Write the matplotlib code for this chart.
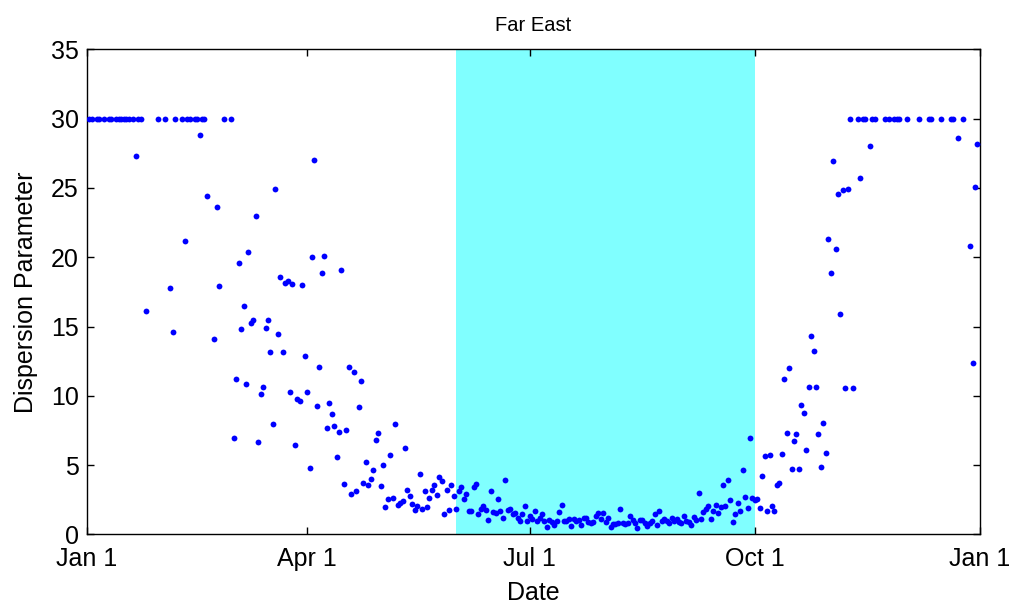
import matplotlib
matplotlib.use("Agg")
import matplotlib.pyplot as plt

plt.rcParams['font.family'] = ['Liberation Sans', 'DejaVu Sans']

# day of year (0 = Jan 1) and daily dispersion parameter, capped at 30
day = [
    1, 2, 4, 5, 7, 9, 10, 12, 13, 14, 15, 16, 17, 19, 20, 21, 22, 24, 29, 32,
    34, 35, 36, 39, 40, 41, 42, 44, 45, 46, 47, 48, 49, 52, 53, 54, 56, 59,
    60, 61, 62, 63, 64, 65, 66, 67, 68, 69, 70, 71, 72, 73, 74, 75, 76, 77,
    78, 79, 80, 81, 82, 83, 84, 85, 86, 87, 88, 89,
    90, 91, 92, 93, 94, 95, 96, 97, 98, 99, 100, 101, 102, 103, 104, 105, 106,
    107, 108, 109, 110, 111, 112, 113, 114, 115, 116, 117, 118, 119,
    120, 121, 122, 123, 124, 125, 126, 127, 128, 129, 130, 131, 132, 133, 134,
    135, 136, 137, 138, 139, 140, 141, 142, 143, 144, 145, 146, 147, 148, 149, 150,
    151, 152, 153, 154, 155, 156, 157, 158, 159, 160, 161, 162, 163, 164, 165,
    166, 167, 168, 169, 170, 171, 172, 173, 174, 175, 176, 177, 178, 179, 180,
    181, 182, 183, 184, 185, 186, 187, 188, 189, 190, 191, 192, 193, 194, 195,
    196, 197, 198, 199, 200, 201, 202, 203, 204, 205, 206, 207, 208, 209, 210, 211,
    212, 213, 214, 215, 216, 217, 218, 219, 220, 221, 222, 223, 224, 225, 226,
    227, 228, 229, 230, 231, 232, 233, 234, 235, 236, 237, 238, 239, 240, 241, 242,
    243, 244, 245, 246, 247, 248, 249, 250, 251, 252, 253, 254, 255, 256, 257,
    258, 259, 260, 261, 262, 263, 264, 265, 266, 267, 268, 269, 270, 271, 272,
    273, 274, 275, 276, 277, 278, 279, 280, 281, 282, 283, 284, 285, 286, 287,
    288, 289, 290, 291, 292, 293, 294, 295, 296, 297, 298, 299, 300, 301, 302, 303,
    304, 305, 306, 307, 308, 309, 310, 311, 312, 313, 315, 316, 317, 318, 320,
    321, 322, 326, 328, 330, 331, 332,
    335, 340, 344, 345, 349, 353, 354, 356, 358, 361, 362, 363, 364,
]
dispersion = [
    30, 30, 30, 30, 30, 30, 30, 30, 30, 30, 30, 30, 30, 30, 27.3, 30, 30, 16.1, 30, 30,
    17.8, 14.6, 30, 30, 21.2, 30, 30, 30, 30, 28.8, 30, 30, 24.4, 14.1, 23.6, 17.9, 30, 30,
    6.96, 11.2, 19.6, 14.8, 16.5, 10.85, 20.4, 15.25, 15.45, 23.0, 6.64, 10.15, 10.65, 14.9, 15.45, 13.2, 7.97, 24.9,
    14.45, 18.6, 13.2, 18.15, 18.3, 10.3, 18.1, 6.45, 9.8, 9.65, 18.0, 12.9,
    10.25, 4.8, 20.05, 27.0, 9.26, 12.1, 18.9, 20.1, 7.65, 9.52, 8.7, 7.82, 5.61, 7.41, 19.07, 3.66, 7.53,
    12.1, 2.92, 11.75, 3.11, 9.17, 11.1, 3.73, 5.25, 3.59, 4.02, 4.67, 6.81, 7.34,
    3.52, 5.01, 2.0, 2.56, 5.73, 2.63, 7.99, 2.15, 2.3, 2.42, 6.21, 3.23, 2.75, 2.22, 1.77,
    2.03, 4.36, 1.81, 3.16, 1.95, 2.65, 3.18, 3.59, 2.87, 4.14, 3.83, 1.5, 3.21, 1.77, 3.57, 2.78,
    1.81, 3.16, 3.45, 2.58, 2.94, 1.69, 1.69, 3.45, 3.62, 1.48, 1.86, 2.03, 1.74, 1.07, 3.11,
    1.62, 1.55, 2.56, 1.69, 1.21, 3.91, 1.77, 1.86, 1.48, 1.55, 1.17, 0.97, 1.46, 2.03, 0.97,
    1.36, 1.14, 1.69, 0.97, 1.21, 1.48, 0.97, 0.56, 1.05, 0.9, 0.66, 1.0, 1.6, 2.1, 1.0,
    1.0, 1.14, 0.59, 1.1, 1.0, 1.02, 0.66, 1.19, 1.21, 0.9, 0.81, 0.88, 1.31, 1.53, 1.1, 1.55,
    0.9, 1.19, 0.56, 0.76, 0.78, 0.85, 1.86, 0.81, 0.78, 0.85, 1.33, 1.05, 0.85, 0.49, 1.05,
    1.05, 0.81, 0.63, 0.81, 1.0, 1.48, 0.68, 1.67, 1.0, 1.14, 1.0, 0.81, 1.21, 0.97, 1.1, 0.9,
    0.85, 1.31, 0.97, 0.9, 0.68, 1.24, 1.05, 2.97, 1.12, 1.62, 1.82, 2.03, 1.12, 1.72, 2.15,
    1.53, 1.98, 3.55, 2.08, 3.95, 2.47, 0.9, 1.48, 2.25, 1.67, 4.65, 2.73, 1.91, 6.94, 2.65,
    2.49, 2.54, 1.89, 4.2, 5.68, 1.67, 5.75, 2.03, 1.67, 3.55, 3.74, 5.83, 11.23, 7.32, 12.03,
    4.72, 6.76, 7.25, 4.74, 9.34, 8.74, 6.09, 10.66, 14.33, 13.25, 10.61, 7.25, 4.84, 8.04, 5.85, 21.35,
    18.85, 26.95, 20.6, 24.6, 15.9, 24.84, 10.54, 24.9, 30, 10.56, 30, 25.7, 30, 30, 28.0,
    30, 30, 30, 30, 30, 30, 30,
    30, 30, 30, 30, 30, 30, 30, 28.6, 30, 20.8, 12.4, 25.05, 28.2,
]

tick_days = [0, 90, 181, 273, 365]
tick_labels = ['Jan 1', 'Apr 1', 'Jul 1', 'Oct 1', 'Jan 1']
summer_start, summer_end = 151, 273   # Jun 1 .. Oct 1

fig = plt.figure(figsize=(10.16, 6.08), dpi=100)
ax = fig.add_axes([0.0856, 0.1209, 0.8789, 0.7979])

ax.axvspan(summer_start, summer_end, color='#80ffff', lw=0, zorder=0)
ax.plot(day, dispersion, 'o', color='#0000ff', markersize=4.2, mec='none', zorder=3)

ax.set_xlim(0, 365)
ax.set_ylim(0, 35)
ax.set_xticks(tick_days)
ax.set_xticklabels(tick_labels)
ax.set_yticks(range(0, 36, 5))

ax.tick_params(direction='in', length=5, width=1, top=True, right=True,
               labelsize=18, color='k')
ax.tick_params(axis='x', pad=9)
ax.tick_params(axis='y', pad=6)
for s in ax.spines.values():
    s.set_color('k')
    s.set_linewidth(1)

ax.set_title('Far East', fontsize=14.5, pad=13)
ax.set_xlabel('Date', fontsize=18, labelpad=7)
ax.set_ylabel('Dispersion Parameter', fontsize=18, labelpad=9)

fig.savefig('out.png', dpi=100)
